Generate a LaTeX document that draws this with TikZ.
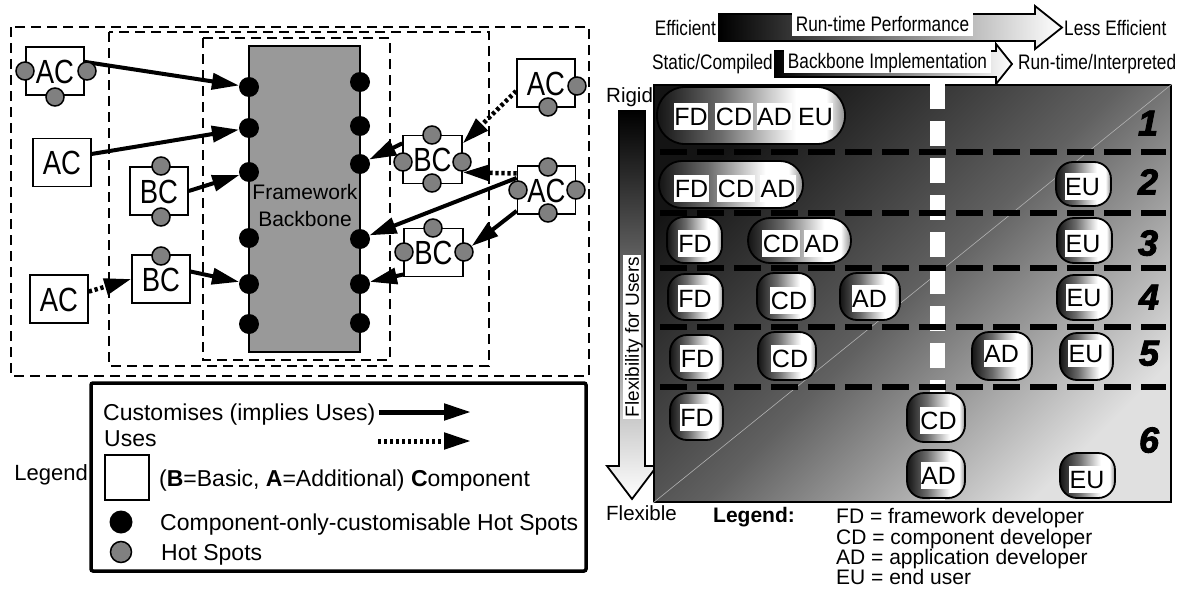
\documentclass[tikz,border=0pt]{standalone}
\usepackage{fontspec}
\setmainfont{Liberation Sans}
\newfontfamily\narrowfont[FakeStretch=0.82]{Liberation Sans}
\newfontfamily\heavyfont[BoldItalicFeatures={FakeBold=2.5}]{Liberation Sans}
\usetikzlibrary{arrows.meta}
\pgfdeclarelayer{bg}
\pgfsetlayers{bg,main}
\pgfdeclarehorizontalshading{bubbleshade}{100bp}{color(0bp)=(black!92); color(25bp)=(black!92); color(42bp)=(black!58); color(62bp)=(white); color(70bp)=(white); color(75bp)=(black!45); color(100bp)=(black!45)}
\begin{document}
\begin{tikzpicture}[x=1pt,y=1pt,
  dbox/.style={draw, line width=2pt, dash pattern=on 10pt off 6pt},
  comp/.style={draw, line width=1.6pt, fill=white, minimum width=58pt, minimum height=48pt, inner sep=0pt, text height=24pt, text depth=0pt, font=\narrowfont\fontsize{33.5}{36}\selectfont},
  hs/.style={circle, draw, line width=1.5pt, fill=black!50, minimum size=18pt, inner sep=0pt},
  cs/.style={circle, fill=black, minimum size=20pt, inner sep=0pt},
  cust/.style={line width=4pt, -{Triangle[length=27pt,width=16pt]}},
  uses/.style={line width=4.5pt, dash pattern=on 3.3pt off 2.7pt, -{Triangle[length=27pt,width=16pt]}},
  ltxt/.style={inner sep=0pt, text height=16.5pt, text depth=0pt, font=\fontsize{23}{26}\selectfont},
  ntxt/.style={inner sep=0pt, text height=15pt, text depth=0pt, font=\narrowfont\fontsize{21}{24}\selectfont},
  wlab/.style={fill=white, inner xsep=4pt, inner ysep=4.5pt, text height=15pt, text depth=0pt, font=\narrowfont\fontsize{21}{24}\selectfont},
  rtxt/.style={inner sep=0pt, text height=14.7pt, text depth=0pt, font=\fontsize{20.5}{24}\selectfont},
  bub/.style={draw, line width=1.8pt, shade, shading=bubbleshade, rounded corners=17pt, inner sep=0pt},
  lab/.style={fill=white, inner xsep=0.6pt, inner ysep=4.5pt, text height=18pt, text depth=0pt, font=\fontsize{25}{28}\selectfont},
  numf/.style={inner sep=0pt, text height=25pt, text depth=0pt, font=\heavyfont\fontsize{36}{40}\selectfont\bfseries\itshape},
  bigarrow/.style={draw, line width=1.8pt, left color=black, right color=white},
]
\useasboundingbox (0,0) rectangle (1184,-589);

% ---------------- left panel ----------------
\begin{pgfonlayer}{bg}
\draw[dbox] (11,-27) rectangle (589,-376);
\draw[dbox] (109,-32) rectangle (489,-366);
\draw[dbox] (203,-38) rectangle (390,-360);
\end{pgfonlayer}

\node[draw, line width=1.6pt, fill=black!40, minimum width=111pt, minimum height=306pt, inner sep=0pt] (bb) at (304.5,-199) {};
\node[align=center, inner sep=0pt, font=\fontsize{21}{27}\selectfont] (bbtext) at (305,-205) {Framework\\Backbone};

\node[cs] (L1) at (249,-87) {};
\node[cs] (L2) at (249,-128) {};
\node[cs] (L3) at (249,-172) {};
\node[cs] (L4) at (249,-238) {};
\node[cs] (L5) at (249,-284) {};
\node[cs] (L6) at (249,-324) {};
\node[cs] (R1) at (360,-82) {};
\node[cs] (R2) at (360,-126) {};
\node[cs] (R3) at (360,-164) {};
\node[cs] (R4) at (360,-239) {};
\node[cs] (R5) at (360,-284) {};
\node[cs] (R6) at (360,-323) {};

\node[comp] (ac1) at (55,-71) {AC};
\node[comp] (ac2) at (62,-162.5) {AC};
\node[comp] (bc1) at (159,-191) {BC};
\node[comp] (ac3) at (59,-299) {AC};
\node[comp] (bc2) at (161,-279) {BC};
\node[comp, minimum width=59pt] (bc3) at (432.5,-159.5) {BC};
\node[comp] (ac4) at (546,-83) {AC};
\node[comp] (ac5) at (546.5,-190) {AC};
\node[comp, minimum width=59pt] (bc4) at (433.5,-252.5) {BC};

\node[hs] (ac1l) at (25,-71) {};
\node[hs] (ac1r) at (87,-71) {};
\node[hs] (ac1b) at (55,-97) {};
\node[hs] (bc1t) at (161,-166) {};
\node[hs] (bc1b) at (161,-217) {};
\node[hs] (bc2t) at (161,-256) {};
\node[hs] (ac4r) at (577,-86) {};
\node[hs] (ac4b) at (548,-107) {};
\node[hs] (bc3t) at (432,-135) {};
\node[hs] (bc3l) at (403,-162) {};
\node[hs] (bc3r) at (462,-162) {};
\node[hs] (bc3b) at (432,-183) {};
\node[hs] (ac5t) at (548,-167) {};
\node[hs] (ac5l) at (518,-190) {};
\node[hs] (ac5r) at (576,-190) {};
\node[hs] (ac5b) at (548,-213) {};
\node[hs] (bc4t) at (433,-228) {};
\node[hs] (bc4l) at (404,-252) {};
\node[hs] (bc4r) at (464,-252) {};

\begin{pgfonlayer}{bg}
\draw[cust] (ac1.17) -- (L1);
\draw[cust] (ac2.16) -- (L2);
\draw[cust] (bc1.east) -- (L3);
\draw[uses] (ac3.14) -- (bc2.west);
\draw[cust] (bc2.14) -- (L5);
\draw[uses] (ac4.195) -- (bc3.28);
\draw[uses] (ac5.151) -- (bc3.-23);
\draw[cust] (bc3.152) -- (R3);
\draw[cust] (ac5.158) -- (R4);
\draw[cust] (ac5.215) -- (bc4r);
\draw[cust] (bc4.216) -- (R5);
\end{pgfonlayer}

% ---------------- left legend ----------------
\node[draw, line width=3.5pt, rounded corners=2pt, minimum width=495pt, minimum height=188pt, inner sep=0pt] (legbox) at (338.5,-477) {};
\node[inner sep=0pt, text height=15.8pt, text depth=0pt, font=\fontsize{22}{25}\selectfont, anchor=east] (legword) at (88,-473) {Legend};
\node[ltxt, anchor=west] (lcust) at (103,-412) {Customises (implies Uses)};
\coordinate (lc1) at (379,-412);
\coordinate (lc2) at (471,-412);
\draw[cust, line width=5pt] (lc1) -- (lc2);
\node[ltxt, anchor=west] (luses) at (104,-438) {Uses};
\coordinate (lu1) at (378,-441);
\coordinate (lu2) at (471,-441);
\draw[uses, line width=5pt] (lu1) -- (lu2);
\node[draw, line width=2pt, minimum width=44pt, minimum height=45pt, inner sep=0pt] (lsq) at (127,-477.5) {};
\node[ltxt, anchor=west] (lcomp) at (159,-478) {(\textbf{B}=Basic, \textbf{A}=Additional) \textbf{C}omponent};
\node[cs, minimum size=23pt] (lcs) at (121,-522) {};
\node[ltxt, anchor=west] (lcstext) at (160,-522) {Component-only-customisable Hot Spots};
\node[hs, minimum size=21pt] (lhs) at (121,-552) {};
\node[ltxt, anchor=west] (lhstext) at (161,-552) {Hot Spots};

% ---------------- right panel ----------------
\path[bigarrow] (719,-14) -- (1035,-14) -- (1035,-6) -- (1062,-27.5) -- (1035,-49) -- (1035,-41) -- (719,-41) -- cycle;
\path[bigarrow] (775,-51) -- (996,-51) -- (996,-44) -- (1012,-64) -- (996,-84) -- (996,-77) -- (775,-77) -- cycle;
\node[wlab] (rtp) at (882.5,-24) {Run-time Performance};
\node[wlab] (bimp) at (887.5,-61) {Backbone Implementation};
\node[ntxt, anchor=east] (eff) at (716,-28) {Efficient};
\node[ntxt, anchor=west] (leff) at (1064,-28) {Less Efficient};
\node[ntxt, anchor=east] (stat) at (773,-62) {Static/Compiled};
\node[ntxt, anchor=west] (rti) at (1018,-62) {Run-time/Interpreted};

\path[draw, line width=1.8pt, top color=black, bottom color=white] (619,-111) -- (645,-111) -- (645,-466) -- (657,-466) -- (632,-499) -- (607,-466) -- (619,-466) -- cycle;
\node[fill=white, rotate=90, inner xsep=1.5pt, inner ysep=2pt, text height=13.6pt, text depth=0pt, font=\fontsize{19}{22}\selectfont] (flex) at (632,-337) {Flexibility for Users};

\node[draw, line width=2pt, minimum width=517pt, minimum height=417pt, inner sep=0pt, top color=black!92, bottom color=black!12, middle color=black!62, shading angle=45] (mainbox) at (912.5,-293.5) {};
\draw[white!70!black, line width=0.6pt] (mainbox.south west) -- (mainbox.north east);
\draw[white, line width=15pt, dash pattern=on 25pt off 12pt] (937,-84) -- (937,-500);
\foreach \yy in {152,213,268,327,387}
  \draw[line width=6pt, dash pattern=on 27pt off 10pt] (660,-\yy) -- (1166,-\yy);

\node[rtxt, anchor=west] (rigid) at (606,-95) {Rigid};
\node[rtxt, anchor=west] (flexible) at (606,-513) {Flexible};

% bubbles
\node[bub, rounded corners=28pt, minimum width=188pt, minimum height=57pt] (b1) at (751,-115.5) {};
\node[bub, rounded corners=23pt, minimum width=144pt, minimum height=47pt] (b2) at (731,-184.5) {};
\node[bub, minimum width=55pt, minimum height=44pt] (b2e) at (1083.5,-184) {};
\node[bub, minimum width=55pt, minimum height=46pt] (b3f) at (694.5,-240) {};
\node[bub, rounded corners=22pt, minimum width=103pt, minimum height=45pt] (b3c) at (799.5,-240.5) {};
\node[bub, minimum width=55pt, minimum height=45pt] (b3e) at (1084.5,-240.5) {};
\node[bub, minimum width=55pt, minimum height=46pt] (b4f) at (695.5,-297) {};
\node[bub, minimum width=58pt, minimum height=47pt] (b4c) at (786,-296.5) {};
\node[bub, minimum width=60pt, minimum height=47pt] (b4a) at (870,-296.5) {};
\node[bub, minimum width=55pt, minimum height=45pt] (b4e) at (1084.5,-297.5) {};
\node[bub, minimum width=53pt, minimum height=45pt] (b5f) at (696.5,-357.5) {};
\node[bub, minimum width=58pt, minimum height=48pt] (b5c) at (787,-356) {};
\node[bub, minimum width=60pt, minimum height=48pt] (b5a) at (1002,-356) {};
\node[bub, minimum width=53pt, minimum height=47pt] (b5e) at (1086.5,-356.5) {};
\node[bub, minimum width=53pt, minimum height=47pt] (b6f) at (696.5,-416.5) {};
\node[bub, minimum width=58pt, minimum height=49pt] (b6c) at (936,-417.5) {};
\node[bub, minimum width=58pt, minimum height=48pt] (b6a) at (936,-474) {};
\node[bub, minimum width=55pt, minimum height=45pt] (b6e) at (1087.5,-475.5) {};

% labels
\node[lab] (l1f) at (691,-116.5) {FD};
\node[lab] (l1c) at (734,-116.5) {CD};
\node[lab] (l1a) at (774.5,-116.5) {AD};
\node[lab] (l1e) at (815.5,-116.5) {EU};
\node[lab] (l2f) at (691.5,-188) {FD};
\node[lab] (l2c) at (736,-188) {CD};
\node[lab] (l2a) at (778,-188) {AD};
\node[lab] (l2e) at (1082.5,-186) {EU};
\node[lab] (l3f) at (695,-243.5) {FD};
\node[lab] (l3c) at (781,-243) {CD};
\node[lab] (l3a) at (822,-243) {AD};
\node[lab] (l3e) at (1083,-243) {EU};
\node[lab] (l4f) at (695,-298) {FD};
\node[lab] (l4c) at (789,-300) {CD};
\node[lab] (l4a) at (869.5,-298) {AD};
\node[lab] (l4e) at (1084,-297) {EU};
\node[lab] (l5f) at (697.5,-358) {FD};
\node[lab] (l5c) at (790,-358) {CD};
\node[lab] (l5a) at (1001.5,-353) {AD};
\node[lab] (l5e) at (1086,-353) {EU};
\node[lab] (l6f) at (697,-417) {FD};
\node[lab] (l6c) at (938.5,-420) {CD};
\node[lab] (l6a) at (938.5,-475) {AD};
\node[lab] (l6e) at (1087,-479) {EU};

% level numbers
\node[numf] (n1) at (1148,-123) {1};
\node[numf] (n2) at (1148,-182) {2};
\node[numf] (n3) at (1148,-243) {3};
\node[numf] (n4) at (1149,-297) {4};
\node[numf] (n5) at (1149,-353) {5};
\node[numf] (n6) at (1149,-440) {6};

% right legend
\node[inner sep=0pt, text height=15pt, text depth=0pt, font=\fontsize{21}{24}\selectfont\bfseries, anchor=west] (rleg) at (713,-515) {Legend:};
\node[rtxt, font=\fontsize{21}{24}\selectfont, anchor=west] (kfd) at (836,-516) {FD = framework developer};
\node[rtxt, font=\fontsize{21}{24}\selectfont, anchor=west] (kcd) at (836,-537) {CD = component developer};
\node[rtxt, font=\fontsize{21}{24}\selectfont, anchor=west] (kad) at (836,-557) {AD = application developer};
\node[rtxt, font=\fontsize{21}{24}\selectfont, anchor=west] (keu) at (836,-577) {EU = end user};
\end{tikzpicture}
\end{document}
